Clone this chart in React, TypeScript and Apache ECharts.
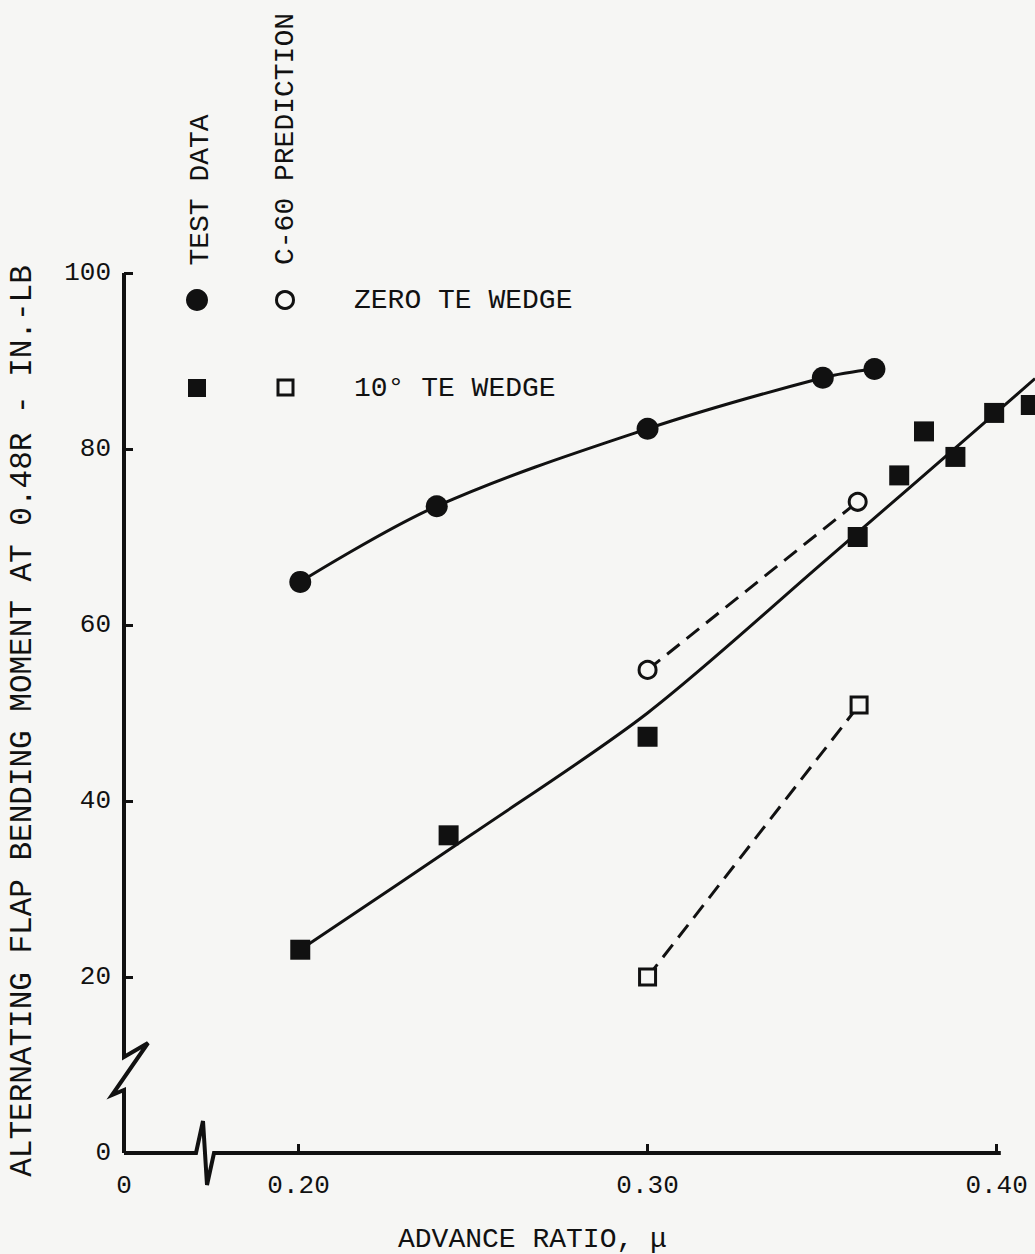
import React, { useEffect, useRef } from "react";
import * as echarts from "echarts";

// Advance ratio (mu) and alternating flap bending moment (in.-lb)
const zeroTestMu = [0.2005, 0.2396, 0.3, 0.3502, 0.365];
const zeroTestM = [64.9, 73.5, 82.3, 88.1, 89.1];

const tenTestMu = [0.2005, 0.243, 0.3, 0.3602, 0.3721, 0.3792, 0.3882, 0.3993, 0.4098];
const tenTestM = [23.1, 36.1, 47.3, 70.0, 77.0, 82.0, 79.1, 84.1, 85.0];

const tenFitMu = [0.2005, 0.25, 0.3, 0.35, 0.4, 0.411];
const tenFitM = [23.1, 36.3, 50.0, 67.0, 84.2, 88.0];

const zeroPredMu = [0.3, 0.3602];
const zeroPredM = [54.9, 74.0];

const tenPredMu = [0.3, 0.3606];
const tenPredM = [20.0, 50.9];

const xTickValues = [0.2, 0.3, 0.4];
const xLabelValues = [0.15, 0.2, 0.3, 0.4];
const xLabelTexts = ["0", "0.20", "0.30", "0.40"];

const yTitle = "ALTERNATING FLAP BENDING MOMENT AT 0.48R - IN.-LB";
const xTitle = "ADVANCE RATIO, \u03bc";
const legendHeaders = ["TEST DATA", "C-60 PREDICTION"];
const legendRows = ["ZERO TE WEDGE", "10\u00b0 TE WEDGE"];

const INK = "#111";
const PAPER = "#f6f6f4";
const FONT = '"Liberation Mono", "DejaVu Sans Mono", monospace';

const pairs = (xs: number[], ys: number[]) => xs.map((x, i) => [x, ys[i]]);

export default function App() {
  const ref = useRef<HTMLDivElement>(null);

  useEffect(() => {
    if (!ref.current) return;
    const chart = echarts.init(ref.current, undefined, { renderer: "svg" });

    const option: any = {
      animation: false,
      backgroundColor: PAPER,
      grid: { left: 124, top: 273, width: 920, height: 880 },
      xAxis: {
        type: "value",
        min: 0.15,
        max: 0.411,
        axisLine: { show: false },
        splitLine: { show: false },
        axisTick: {
          show: true,
          inside: true,
          length: 9,
          customValues: xTickValues,
          lineStyle: { color: INK, width: 3 },
        },
        axisLabel: {
          customValues: xLabelValues,
          formatter: (v: number) => {
            const i = xLabelValues.findIndex((t) => Math.abs(t - v) < 1e-6);
            return i >= 0 ? xLabelTexts[i] : "";
          },
          color: INK,
          fontFamily: FONT,
          fontSize: 26,
          margin: 20,
        },
      },
      yAxis: {
        type: "value",
        min: 0,
        max: 100,
        interval: 20,
        axisLine: { show: false },
        splitLine: { show: false },
        axisTick: {
          show: true,
          inside: true,
          length: 9,
          lineStyle: { color: INK, width: 3 },
        },
        axisLabel: {
          color: INK,
          fontFamily: FONT,
          fontSize: 26,
          margin: 13,
        },
      },
      series: [
        {
          name: "TEST DATA ZERO TE WEDGE",
          type: "line",
          data: pairs(zeroTestMu, zeroTestM),
          smooth: 0.35,
          symbol: "circle",
          symbolSize: 22,
          itemStyle: { color: INK, opacity: 1 },
          lineStyle: { color: INK, width: 3 },
          z: 3,
        },
        {
          name: "10 TE WEDGE FAIRING",
          type: "line",
          data: pairs(tenFitMu, tenFitM),
          smooth: 0.3,
          showSymbol: false,
          lineStyle: { color: INK, width: 3 },
          z: 2,
        },
        {
          name: "TEST DATA 10 TE WEDGE",
          type: "scatter",
          data: pairs(tenTestMu, tenTestM),
          symbol: "rect",
          symbolSize: 20,
          itemStyle: { color: INK, opacity: 1 },
          z: 4,
        },
        {
          name: "C-60 ZERO TE WEDGE",
          type: "line",
          data: pairs(zeroPredMu, zeroPredM),
          symbol: "circle",
          symbolSize: 17,
          itemStyle: { color: PAPER, borderColor: INK, borderWidth: 3, opacity: 1 },
          lineStyle: { color: INK, width: 3, type: [16, 9] },
          z: 3,
        },
        {
          name: "C-60 10 TE WEDGE",
          type: "line",
          data: pairs(tenPredMu, tenPredM),
          symbol: "rect",
          symbolSize: 16,
          itemStyle: { color: PAPER, borderColor: INK, borderWidth: 3, opacity: 1 },
          lineStyle: { color: INK, width: 3, type: [16, 9] },
          z: 3,
        },
      ],
    };

    chart.setOption(option);

    const o = chart.convertToPixel({ gridIndex: 0 }, [0.15, 0]) as number[];
    const ox = o[0];
    const oy = o[1];
    const yTop = (chart.convertToPixel({ gridIndex: 0 }, [0.15, 100]) as number[])[1];
    const xEnd = (chart.convertToPixel({ gridIndex: 0 }, [0.4012, 0]) as number[])[0];

    const axisStyle = { stroke: INK, lineWidth: 4, fill: null, lineJoin: "miter" };
    const textStyle = (size: number) => ({
      font: `${size}px ${FONT}`,
      fill: INK,
    });

    chart.setOption({
      graphic: [
        {
          type: "polyline",
          shape: {
            points: [
              [ox, yTop],
              [ox, oy - 96],
              [ox + 24, oy - 110],
              [ox - 12, oy - 58],
              [ox, oy - 63],
              [ox, oy],
            ],
          },
          style: axisStyle,
          z: 10,
        },
        {
          type: "polyline",
          shape: {
            points: [
              [ox, oy],
              [ox + 72, oy],
              [ox + 79, oy - 32],
              [ox + 83, oy + 32],
              [ox + 90, oy],
              [xEnd, oy],
            ],
          },
          style: axisStyle,
          z: 10,
        },
        {
          type: "text",
          x: 22,
          y: 721,
          rotation: Math.PI / 2,
          style: { ...textStyle(31), text: yTitle, align: "center", verticalAlign: "middle" },
        },
        {
          type: "text",
          x: 398,
          y: 1239,
          style: { ...textStyle(28), text: xTitle, align: "left", verticalAlign: "middle" },
        },
        {
          type: "text",
          x: 200,
          y: 190,
          rotation: Math.PI / 2,
          style: { ...textStyle(28), text: legendHeaders[0], align: "center", verticalAlign: "middle" },
        },
        {
          type: "text",
          x: 285,
          y: 139,
          rotation: Math.PI / 2,
          style: { ...textStyle(28), text: legendHeaders[1], align: "center", verticalAlign: "middle" },
        },
        {
          type: "circle",
          shape: { cx: 197, cy: 300, r: 11 },
          style: { fill: INK },
        },
        {
          type: "circle",
          shape: { cx: 285, cy: 300, r: 8.5 },
          style: { fill: PAPER, stroke: INK, lineWidth: 3 },
        },
        {
          type: "text",
          x: 354,
          y: 300,
          style: { ...textStyle(28), text: legendRows[0], align: "left", verticalAlign: "middle" },
        },
        {
          type: "rect",
          shape: { x: 188, y: 379, width: 18, height: 18 },
          style: { fill: INK },
        },
        {
          type: "rect",
          shape: { x: 278, y: 380, width: 15, height: 15 },
          style: { fill: PAPER, stroke: INK, lineWidth: 3 },
        },
        {
          type: "text",
          x: 354,
          y: 388,
          style: { ...textStyle(28), text: legendRows[1], align: "left", verticalAlign: "middle" },
        },
      ],
    });

    return () => chart.dispose();
  }, []);

  return (
    <div
      ref={ref}
      style={{ position: "absolute", left: 0, top: 0, width: 1035, height: 1254 }}
    />
  );
}
